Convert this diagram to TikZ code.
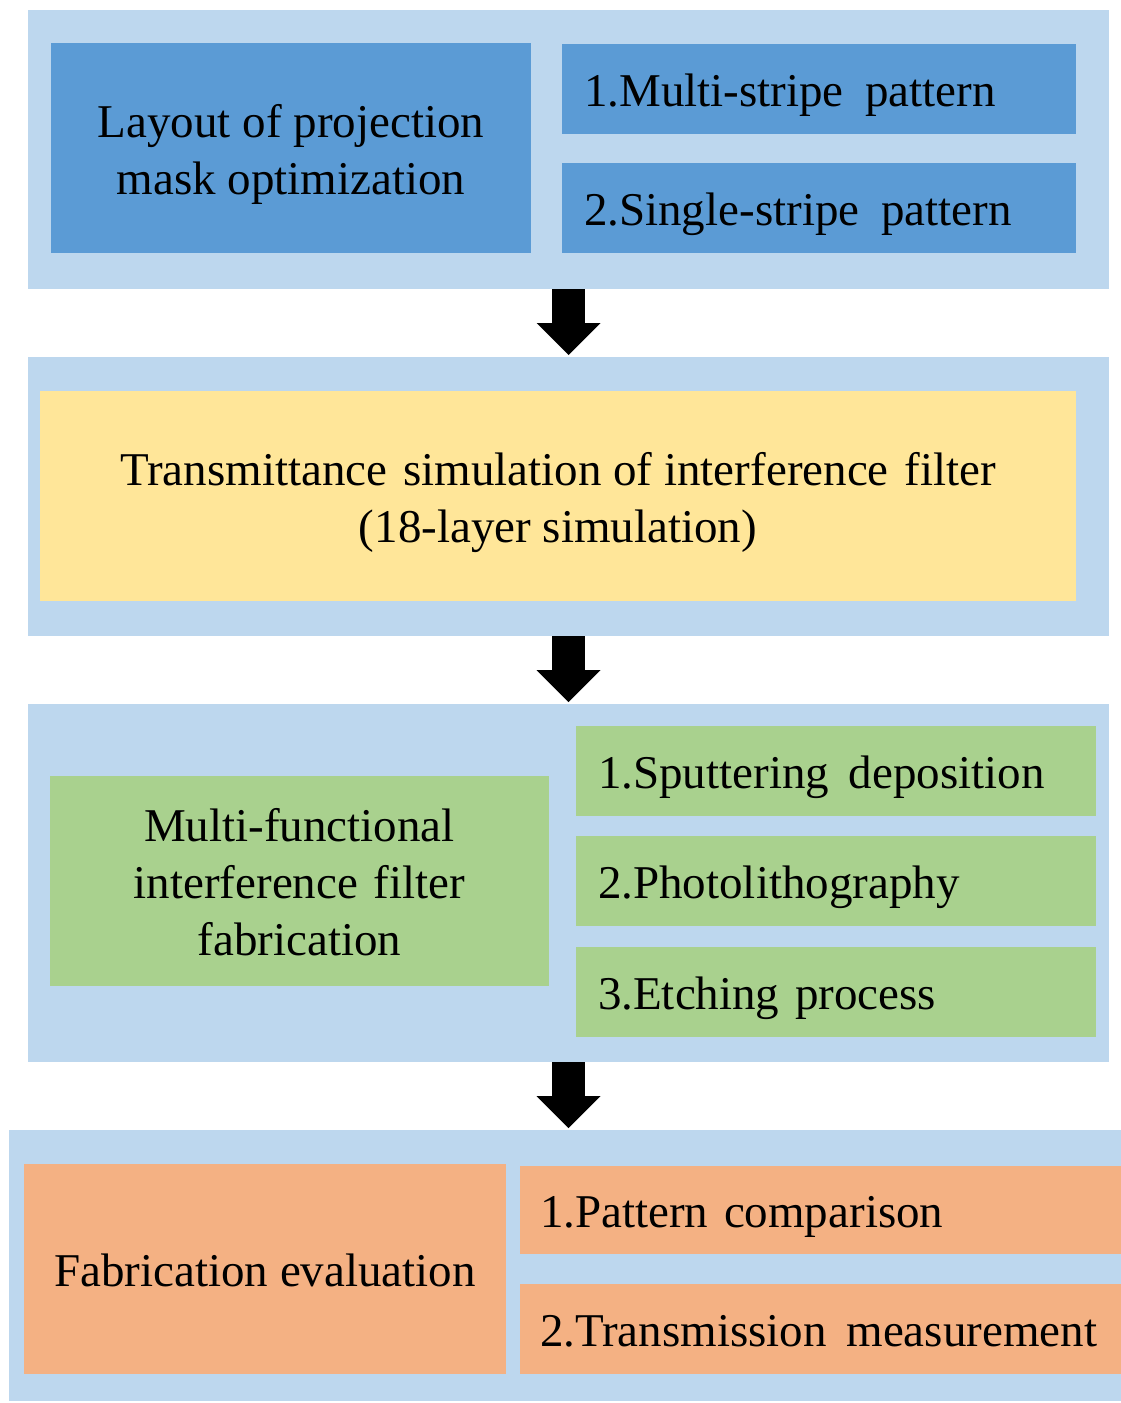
\documentclass[tikz,border=0pt]{standalone}
\usepackage{fontspec}
\setmainfont{Liberation Serif}
\usetikzlibrary{arrows.meta}
\definecolor{panelblue}{HTML}{BDD7EE}
\definecolor{boxblue}{HTML}{5B9BD5}
\definecolor{boxyellow}{HTML}{FFE699}
\definecolor{boxgreen}{HTML}{A9D18E}
\definecolor{boxorange}{HTML}{F4B183}
\begin{document}
\begin{tikzpicture}[x=1pt,y=-1pt,
  every node/.style={inner sep=0pt, outer sep=0pt, anchor=north west,
    font=\fontsize{47}{57}\selectfont},
  panel/.style={fill=panelblue},
  sized/.style 2 args={minimum width=#1, minimum height=#2},
  % centred text; the argument is the height above the last baseline
  ctext/.style={align=center, text height=#1, text depth=0pt},
  ltext/.style={align=left, text width=#1, inner xsep=22pt,
    text height=35pt, text depth=0pt},
  bigarrow/.style={line width=33pt, draw=black,
    -{Triangle[width=64pt, length=32pt, line width=0pt]}}
]
\useasboundingbox (0,0) rectangle (1121,1403);

% stage panels
\node[panel, sized={1081pt}{279pt}] (p1) at (28,10) {};
\node[panel, sized={1081pt}{279pt}] (p2) at (28,357) {};
\node[panel, sized={1081pt}{358pt}] (p3) at (28,704) {};
\node[panel, sized={1112pt}{271pt}] (p4) at (9,1130) {};

% stage 1: mask layout
\node[fill=boxblue, sized={480pt}{210pt}, ctext=92pt] (m) at (51,43)
  {Layout of projection\\mask optimization};
\node[fill=boxblue, sized={514pt}{90pt}, ltext=470pt] (m1) at (562,44)
  {\mbox{1.Multi-stripe\hspace{6pt} pattern}};
\node[fill=boxblue, sized={514pt}{90pt}, ltext=470pt] (m2) at (562,163)
  {\mbox{2.Single-stripe\hspace{6pt} pattern}};

% stage 2: simulation
\node[fill=boxyellow, sized={1036pt}{210pt}, ctext=92pt] (s) at (40,391)
  {Transmittance\hspace{4pt} simulation of interference\hspace{4pt} filter\\(18-layer simulation)};

% stage 3: fabrication
\node[fill=boxgreen, sized={499pt}{210pt}, ctext=149pt] (f) at (50,776)
  {Multi-functional\\interference\hspace{4pt} filter\\fabrication};
\node[fill=boxgreen, sized={520pt}{90pt}, ltext=476pt] (f1) at (576,726)
  {\mbox{1.Sputtering\hspace{4pt} deposition}};
\node[fill=boxgreen, sized={520pt}{90pt}, ltext=476pt] (f2) at (576,836)
  {\mbox{2.Photolithography}};
\node[fill=boxgreen, sized={520pt}{90pt}, ltext=476pt] (f3) at (576,947)
  {\mbox{3.Etching process}};

% stage 4: evaluation
\node[fill=boxorange, sized={482pt}{210pt}, ctext=35pt] (e) at (24,1164)
  {Fabrication evaluation};
\node[fill=boxorange, sized={601pt}{88pt}, ltext=561pt, inner xsep=20pt] (e1) at (520,1166)
  {\mbox{1.Pattern comparison}};
\node[fill=boxorange, sized={601pt}{90pt}, ltext=561pt, inner xsep=20pt] (e2) at (520,1284)
  {\mbox{2.Transmission\hspace{4pt} measurement}};

% flow arrows
\draw[bigarrow] (p1.south) -- ([yshift=2pt]p2.north);
\draw[bigarrow] (p2.south) -- ([yshift=2pt]p3.north);
\draw[bigarrow] (p3.south) -- ([yshift=2pt]p4.north -| p3.south);
\end{tikzpicture}
\end{document}
